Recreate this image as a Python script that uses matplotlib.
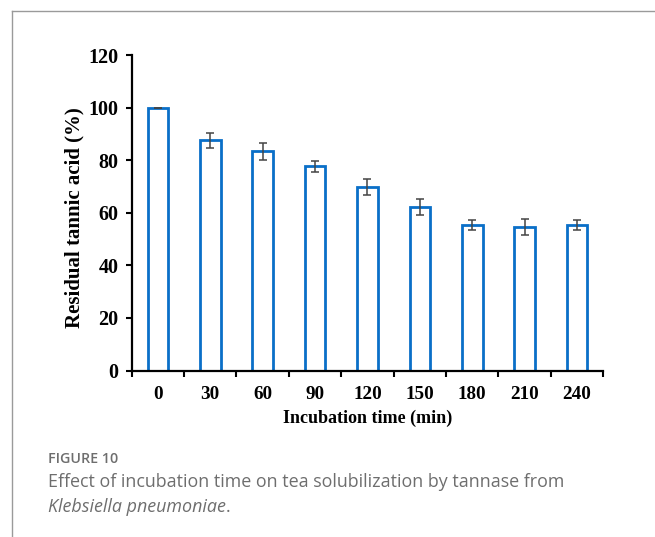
import matplotlib
matplotlib.use("Agg")
import matplotlib.pyplot as plt
from matplotlib.lines import Line2D
import numpy as np

# Incubation time (min) and residual tannic acid (%)
times = ["0", "30", "60", "90", "120", "150", "180", "210", "240"]
residual = [100.0, 87.5, 83.4, 77.6, 69.8, 62.2, 55.3, 54.6, 55.3]
err = [0.0, 2.8, 3.2, 2.0, 3.2, 3.1, 2.0, 3.1, 2.0]
yticks = [0, 20, 40, 60, 80, 100, 120]

W, H = 655, 537
fig = plt.figure(figsize=(W / 100, H / 100), dpi=100)


def fx(px):
    return px / W


def fy(py):
    return 1 - py / H


# page frame lines (top and left)
fig.add_artist(Line2D([fx(12), 1], [fy(10.5), fy(10.5)],
                      transform=fig.transFigure, color="#9a9a9a", lw=1.0))
fig.add_artist(Line2D([fx(12), fx(12)], [0, fy(10.5)],
                      transform=fig.transFigure, color="#9a9a9a", lw=1.0))

left, right, top, bottom = 131.7, 603.3, 55.0, 370.5
ax = fig.add_axes([fx(left), fy(bottom), (right - left) / W, (bottom - top) / H])

serif = "Liberation Serif"
x = np.arange(len(times))
ax.bar(x, residual, width=0.39, facecolor="white", edgecolor="#0A6FC8",
       linewidth=2.0, zorder=2)
ax.errorbar(x, residual, yerr=err, fmt="none", ecolor="#444444",
            elinewidth=1.1, capsize=2.7, capthick=1.1, zorder=3)

ax.set_xlim(-0.5, len(times) - 0.5)
ax.set_ylim(0, 120)
ax.set_yticks(yticks)
ax.set_yticklabels([str(v) for v in yticks], fontfamily=serif,
                   fontweight="bold", fontsize=14.5)
ax.set_xticks(x)
ax.set_xticklabels(times, fontfamily=serif, fontweight="bold", fontsize=13.8)
# boundary ticks between categories
ax.set_xticks(np.arange(-0.5, len(times), 1.0), minor=True)
ax.tick_params(axis="x", which="major", length=0, pad=11)
ax.tick_params(axis="x", which="minor", direction="out", length=4, width=1.5)
ax.tick_params(axis="y", direction="out", length=4, width=1.5, pad=5.5)

for s in ("top", "right"):
    ax.spines[s].set_visible(False)
for s in ("left", "bottom"):
    ax.spines[s].set_linewidth(1.6)
    ax.spines[s].set_color("black")

ax.set_xlabel("Incubation time (min)", fontfamily=serif, fontweight="bold",
              fontsize=13, labelpad=5)
fig.text(fx(74), fy(218), "Residual tannic acid (%)", fontfamily=serif,
         fontweight="bold", fontsize=15, rotation=90, ha="center", va="center")

# caption
cap_color = "#6e6e6e"
fig.text(fx(48), fy(459), "FIGURE 10", fontfamily="Open Sans",
         fontweight="semibold", fontsize=10.3, color=cap_color,
         va="center", ha="left")
fig.text(fx(48), fy(482),
         "Effect of incubation time on tea solubilization by tannase from",
         fontfamily="Open Sans", fontsize=12.9, color=cap_color,
         va="center", ha="left")
species = fig.text(fx(48), fy(507), "Klebsiella pneumoniae",
                   fontfamily="Open Sans", fontsize=12.9, color=cap_color,
                   style="italic", va="center", ha="left")
fig.canvas.draw()
bb = species.get_window_extent()
fig.text(bb.x1 / W, fy(507), ".", fontfamily="Open Sans",
         fontsize=12.9, color=cap_color, va="center", ha="left")

fig.savefig("out.png", dpi=100)
